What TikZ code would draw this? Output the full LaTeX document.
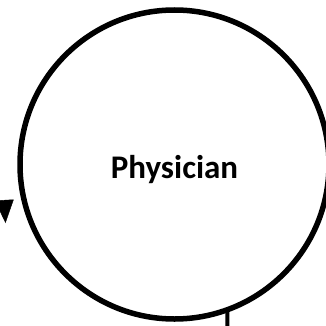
\documentclass[tikz,border=0pt]{standalone}
\usepackage{fontspec}
\setmainfont{Carlito}
\usetikzlibrary{arrows.meta}
\begin{document}
\begin{tikzpicture}[x=1pt,y=1pt,
  rolecircle/.style={circle, draw, line width=5.5pt, minimum size=309pt, inner sep=0pt, outer sep=0pt},
  roletext/.style={font=\bfseries\fontsize{33}{38}\selectfont, inner sep=0pt},
  linkline/.style={line width=4pt},
  headarrow/.style={line width=0.4pt, -{Triangle[length=23pt,width=19pt]}}]
\useasboundingbox (0,0) rectangle (326,325);
\clip (0,0) rectangle (326,325);
\node[rolecircle] (phys) at (174.5,160.5) {};
\node[roletext] (physlabel) at ([yshift=-5pt]phys.center) {Physician};
\coordinate (lineend) at (227.3,-2);
\draw[linkline] (phys.-70) -- (lineend);
\coordinate (a1) at (4.2,125);
\coordinate (a2) at (5.5,102);
\draw[headarrow] (a1) -- (a2);
\end{tikzpicture}
\end{document}
